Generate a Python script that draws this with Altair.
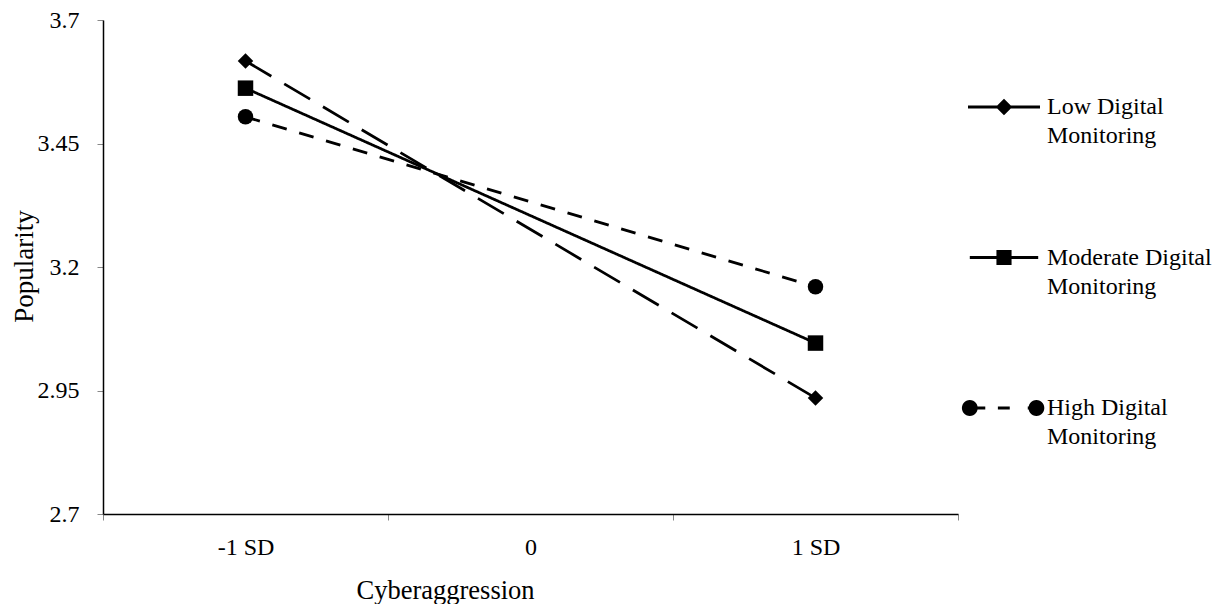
import math
import altair as alt
import pandas as pd

# ---- data ----
levels = ["-1 SD", "0", "1 SD"]            # x categories (axis)
point_levels = ["-1 SD", "1 SD"]           # where values were plotted
series = ["Low Digital Monitoring", "Moderate Digital Monitoring", "High Digital Monitoring"]
low_vals = [3.617, 2.935]
mod_vals = [3.562, 3.046]
high_vals = [3.504, 3.160]
y_ticks = [2.7, 2.95, 3.2, 3.45, 3.7]

rows = []
for s, vals in zip(series, [low_vals, mod_vals, high_vals]):
    for lv, v in zip(point_levels, vals):
        rows.append({"series": s, "level": lv, "value": v})
df = pd.DataFrame(rows)

FONT = "Liberation Serif"
FS = 24

# ---- legend symbol shapes (line + marker) as filled outlines; unit = half symbol width ----
T = 0.039  # half line thickness


def rect(x0, x1, t=T):
    return f"M{x0},{-t}H{x1}V{t}H{x0}Z"


def circle(cx, r, n=28):
    pts = [(cx + r * math.cos(2 * math.pi * i / n), r * math.sin(2 * math.pi * i / n)) for i in range(n)]
    return "M" + "L".join(f"{x:.3f},{y:.3f}" for x, y in pts) + "Z"


p_low = rect(-1, 1) + "M0,-0.23L0.23,0L0,0.23L-0.23,0Z"
p_mod = rect(-0.95, 0.95) + "M-0.21,-0.21H0.21V0.21H-0.21Z"
p_high = (circle(-0.95, 0.22) + rect(-0.95, -0.52) + rect(-0.17, 0.16)
          + rect(0.66, 0.9) + circle(0.9, 0.22))

lv_js = "[" + ",".join(f"'{l}'" for l in levels) + "]"

base = alt.Chart(df).transform_calculate(
    xpos=f"indexof({lv_js}, datum.level) + 0.5"
)

x_enc = alt.X(
    "xpos:Q",
    scale=alt.Scale(domain=[0, len(levels)], nice=False, zero=False),
    axis=alt.Axis(
        values=[i / 2 for i in range(2 * len(levels) + 1)],
        labelExpr=f"datum.value % 1 == 0.5 ? {lv_js}[floor(datum.value)] : ''",
        tickOpacity={"condition": {"test": "datum.value % 1 == 0", "value": 1}, "value": 0},
        title="Cyberaggression", titleFontSize=26.5,
        titleX=342, titleY=84, titleAlign="center", titleBaseline="alphabetic",
        labelBaseline="top", labelPadding=15, tickSize=6,
        labelOverlap=False, labelFlush=False,
    ),
)
y_enc = alt.Y(
    "value:Q",
    scale=alt.Scale(domain=[y_ticks[0], y_ticks[-1]], nice=False, zero=False),
    axis=alt.Axis(
        values=y_ticks, format=".3~g", title="Popularity", titleFontSize=27,
        titleX=-71, titleY=246, titleAlign="center", titleBaseline="alphabetic",
        labelPadding=18, tickSize=6, labelOverlap=False, labelFlush=False,
    ),
)

lines = base.mark_line(color="black", strokeWidth=2.75).encode(
    x=x_enc, y=y_enc,
    strokeDash=alt.StrokeDash("series:N", scale=alt.Scale(domain=series, range=[[30, 15], [1, 0], [15, 13]]), legend=None),
)

points = base.mark_point(filled=True, color="black", opacity=1, size=240).encode(
    x=x_enc, y=y_enc,
    shape=alt.Shape("series:N", scale=alt.Scale(domain=series, range=["diamond", "square", "circle"]), legend=None),
)

legend_layer = base.transform_filter("false").mark_point(
    filled=True, color="black", opacity=1
).encode(
    shape=alt.Shape(
        "series:N",
        scale=alt.Scale(domain=series, range=[p_low, p_mod, p_high]),
        legend=alt.Legend(
            title=None, orient="none", legendX=865, legendY=51,
            symbolSize=5184, symbolStrokeWidth=0,
            symbolFillColor="black", symbolOpacity=1,
            labelFont=FONT, labelFontSize=FS, labelColor="black", labelOffset=7,
            labelLimit=400, rowPadding=73.5, padding=0,
            labelExpr="[replace(datum.label, ' Monitoring', ''), 'Monitoring']",
        ),
    )
)

chart = alt.layer(lines, points, legend_layer).resolve_scale(shape="independent").properties(
    width=855, height=494,
    autosize=alt.AutoSizeParams(type="none"),
    padding={"left": 95, "top": 12, "right": 257, "bottom": 90},
    background="white",
).configure(
    style={"guide-label": {"lineHeight": 29}}
).configure_view(stroke=None).configure_axis(
    labelFont=FONT, titleFont=FONT, labelFontSize=FS,
    labelColor="black", titleColor="black", titleFontWeight="normal",
    domainColor="black", domainWidth=1.5, tickColor="#888888", tickWidth=1,
    grid=False,
)

chart.save("out.html", embed_options={"renderer": "svg", "actions": False})
